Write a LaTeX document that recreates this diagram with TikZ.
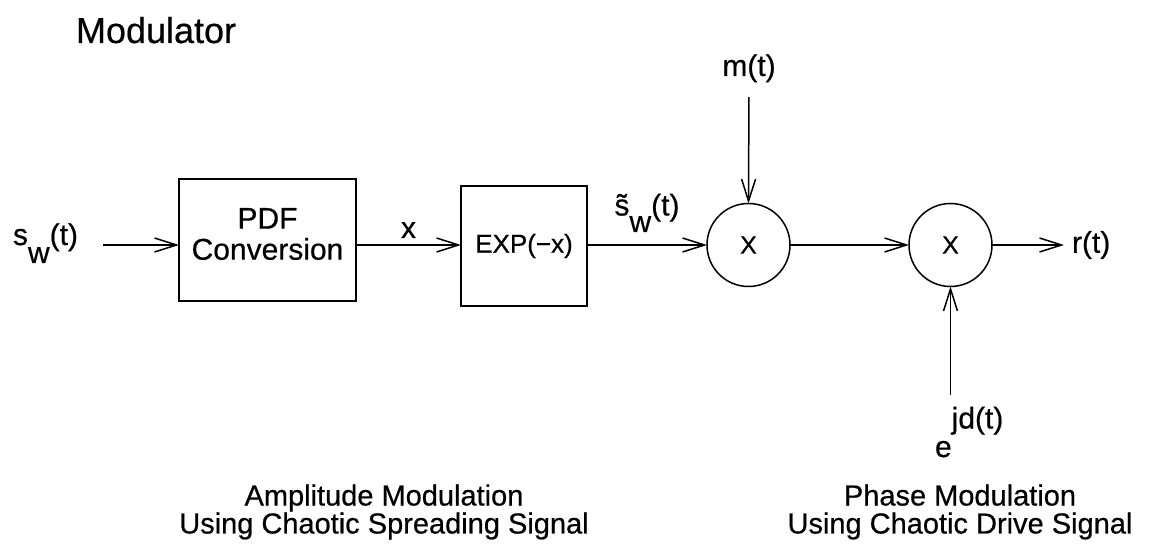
\documentclass[tikz,border=0pt]{standalone}
\usepackage{fontspec}
\setmainfont{Liberation Sans}[FakeBold=0.5]
\usetikzlibrary{arrows.meta}
\begin{document}
\begin{tikzpicture}[x=1pt,y=-1pt,
  every node/.style={inner sep=0pt, outer sep=0pt},
  lbl/.style={font=\fontsize{30}{31}\selectfont},
  blk/.style={draw, line width=1.5pt},
  mult/.style={draw, circle, line width=1.5pt, minimum size=83pt, font=\fontsize{25}{27}\selectfont},
  arr/.style={line width=1.5pt, -{Straight Barb[length=22pt,width=14pt,line width=1.5pt]}}
]
\useasboundingbox (0,0) rectangle (1149,545);

\node[anchor=base west, font=\fontsize{36}{38}\selectfont] (title) at (76,43) {Modulator};

\node[lbl, anchor=base west] (sw) at (13,245) {s\raisebox{-0.6em}{w}(t)};

\node[blk, minimum width=177pt, minimum height=122pt] (pdf) at (267.5,240) {};
\node[align=center, font=\fontsize{30}{31}\selectfont] (pdftxt) at (267.5,234) {PDF\\Conversion};

\node[blk, minimum width=126pt, minimum height=120pt, font=\fontsize{26}{28}\selectfont] (exp) at (524,246) {EXP(−x)};

\node[mult] (c1) at (748.5,245) {X};
\node[mult] (c2) at (950.5,245) {X};

\node[lbl, anchor=base] (mt) at (749,76) {m(t)};
\node[lbl, anchor=west] (rt) at (1072,245) {r(t)};
\node[lbl, anchor=base west] (ej) at (935,457) {e\raisebox{0.95em}{jd(t)}};

\draw[arr, shorten <=25pt] (sw.east |- c1) -- (pdf.west |- c1);
\draw[arr] (pdf.east |- c1) -- node[lbl, midway, above=7pt] {x} (exp.west |- c1);
\draw[arr] (exp.east |- c1) -- node[lbl, midway, above=13pt] {\~{s}\raisebox{-0.55em}{w}(t)} (c1.west);
\draw[arr] (c1.east) -- (c2.west);
\draw[arr, shorten >=8pt] (c2.east) -- (rt.west);
\draw[arr, shorten <=15pt] (mt.south) -- (c1.north);
\draw[arr, shorten <=12pt] (c2 |- ej.north) -- (c2.south);

\node[lbl, align=center, font=\fontsize{29}{28}\selectfont] (amp) at (384,512) {Amplitude Modulation\\Using Chaotic Spreading Signal};
\node[lbl, align=center, font=\fontsize{29}{28}\selectfont] (phase) at (960,512) {Phase Modulation\\Using Chaotic Drive Signal};
\end{tikzpicture}
\end{document}
